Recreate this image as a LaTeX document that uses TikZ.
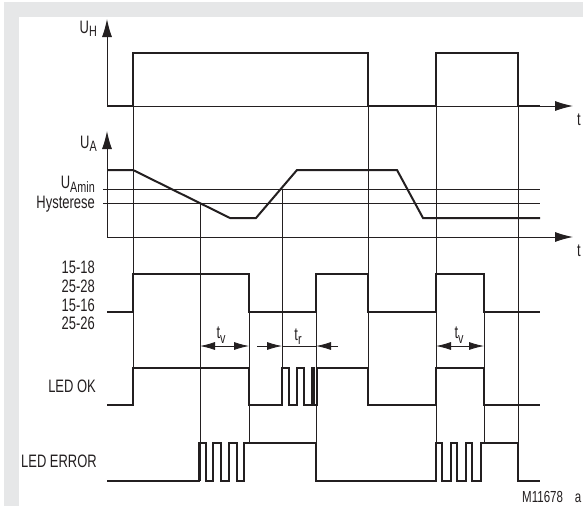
\documentclass[tikz,border=0pt]{standalone}
\usepackage{fontspec}
\setmainfont{Liberation Sans}[FakeStretch=0.72]
\usetikzlibrary{arrows.meta}
\definecolor{ink}{RGB}{35,31,32}
\definecolor{framegray}{RGB}{230,231,232}
\newcommand{\sublow}[2][3pt]{\raisebox{-#1}{\fontsize{15}{15}\selectfont #2}}

\begin{document}
\begin{tikzpicture}[
      x=1pt, y=-1pt,
      signal/.style={draw=ink, line width=2pt, line join=miter},
      guide/.style={draw=ink, line width=0.8pt},
      axisline/.style={draw=ink, line width=1pt, -{Latex[length=18pt, width=10pt]}},
      dimarrow/.style={draw=ink, line width=0.8pt, {Latex[length=15pt, width=8pt]}-{Latex[length=15pt, width=8pt]}},
      halfarrow/.style={draw=ink, line width=0.8pt, -{Latex[length=15pt, width=8pt]}},
      lbl/.style={inner sep=0pt, anchor=base east, text=ink, font=\fontsize{18}{18}\selectfont},
      tlbl/.style={inner sep=0pt, anchor=base, text=ink, font=\fontsize{18}{18}\selectfont}
    ]
      \useasboundingbox (0,0) rectangle (583,506);
      % frame
      \fill[framegray] (4,2) rectangle (583,506);
      \fill[white] (19,17) rectangle (583,506);

      % guide lines
      \draw[guide] (133,106) -- (133,405);
      \draw[guide] (200,203) -- (200,481);
      \draw[guide] (249,274) -- (249,443);
      \draw[guide] (282,189) -- (282,405);
      \draw[guide] (316,274) -- (316,481);
      \draw[guide] (368,53) -- (368,405);
      \draw[guide] (436,53) -- (436,481);
      \draw[guide] (484,274) -- (484,443);
      \draw[guide] (518,53) -- (518,481);
      \draw[guide] (103,189) -- (540,189);
      \draw[guide] (103,203) -- (540,203);

      % axes
      \coordinate (oh) at (107,106);
      \coordinate (oa) at (107,237);
      \draw[axisline] (oh) -- (107,19);
      \draw[axisline] (oh) -- (573,106);
      \draw[axisline] (oa) -- (107,131);
      \draw[axisline] (oa) -- (573,237);

      % signals
      \draw[signal] (107,106) -- (133,106) -- (133,53) -- (368,53) -- (368,106) -- (436,106)
        -- (436,53) -- (518,53) -- (518,106) -- (540,106);
      \draw[signal] (107,170) -- (133,170) -- (230,218) -- (256,218) -- (297,170) -- (397,170)
        -- (423,218) -- (540,218);
      \draw[signal] (107,312) -- (133,312) -- (133,274) -- (249,274) -- (249,312) -- (316,312)
        -- (316,274) -- (368,274) -- (368,312) -- (436,312) -- (436,274) -- (484,274)
        -- (484,312) -- (540,312);
      \draw[signal] (107,405) -- (133,405) -- (133,368) -- (249,368) -- (249,405) -- (282,405)
        -- (282,368) -- (289,368) -- (289,405) -- (297,405) -- (297,368) -- (304,368)
        -- (304,405) -- (311.5,405) -- (311.5,368) -- (313.5,368) -- (313.5,405) -- (316.5,405)
        -- (316.5,368) -- (368,368) -- (368,405) -- (436,405) -- (436,368) -- (484,368)
        -- (484,405) -- (540,405);
      \draw[signal] (107,481) -- (199,481) -- (199,443) -- (206,443) -- (206,481) -- (213,481)
        -- (213,443) -- (221,443) -- (221,481) -- (229,481) -- (229,443) -- (237,443)
        -- (237,481) -- (244,481) -- (244,443) -- (316,443) -- (316,481) -- (436,481)
        -- (436,443) -- (442,443) -- (442,481) -- (451,481) -- (451,443) -- (457,443)
        -- (457,481) -- (466,481) -- (466,443) -- (472,443) -- (472,481) -- (481,481)
        -- (481,443) -- (518,443) -- (518,481) -- (540,481);

      % time spans
      \draw[dimarrow] (200,346) -- (249,346);
      \draw[dimarrow] (436,346) -- (484,346);
      \draw[halfarrow] (257,346) -- (282,346);
      \draw[guide] (282,346) -- (316,346);
      \draw[halfarrow] (338,346) -- (316,346);
      \node[tlbl] (tv1) at (221,338) {t\sublow[5pt]{v}};
      \node[tlbl] (tr) at (298,340) {t\sublow[4pt]{r}};
      \node[tlbl] (tv2) at (459,338) {t\sublow[5pt]{v}};

      % labels
      \node[lbl] (uh) at (97,33) {U\sublow{H}};
      \node[lbl] (ua) at (97,148) {U\sublow{A}};
      \node[lbl] (uamin) at (95,188) {U\sublow[4pt]{Amin}};
      \node[lbl] (hyst) at (95,208) {Hysterese};
      \node[lbl] (c1518) at (95,273) {15-18};
      \node[lbl] (c2528) at (95,292) {25-28};
      \node[lbl] (c1516) at (95,311) {15-16};
      \node[lbl] (c2526) at (95,329) {25-26};
      \node[lbl] (ledok) at (96,392) {LED OK};
      \node[lbl] (lederr) at (97,467) {LED ERROR};
      \node[tlbl, anchor=base west] (th) at (577,125) {t};
      \node[tlbl, anchor=base west] (ta) at (577,256) {t};
      \node[tlbl, anchor=base west, font=\fontsize{16}{16}\selectfont] (code) at (522,502) {M11678\hspace{12pt}a};
    \end{tikzpicture}
\end{document}
